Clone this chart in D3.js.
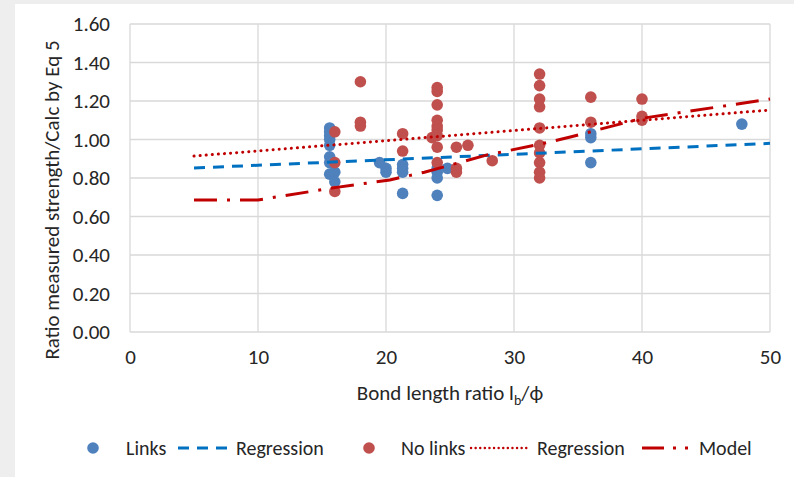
<!DOCTYPE html>
<html>
<head>
<meta charset="utf-8">
<script src="https://cdn.jsdelivr.net/npm/d3@7"></script>
<style>
  html, body { margin: 0; padding: 0; background: #eeeeee; }
  svg { display: block; }
  text { font-family: Carlito, Lato, "Open Sans", sans-serif; fill: #262626; }
</style>
</head>
<body>
<svg id="chart" width="794" height="477"></svg>
<script>
// Bond length ratio (x) and measured/calculated strength ratio (y)
const linksX = [15.6, 15.6, 15.6, 15.6, 15.6, 15.6, 15.6, 15.6, 16.0, 16.0,
                19.5, 20.0, 20.0, 21.3, 21.3, 21.3, 21.3,
                24.0, 24.0, 24.0, 24.0, 24.8, 36.0, 36.0, 36.0, 47.8];
const linksY = [1.06, 1.04, 1.02, 1.00, 0.97, 0.91, 0.88, 0.82, 0.83, 0.78,
                0.88, 0.85, 0.83, 0.87, 0.85, 0.83, 0.72,
                0.85, 0.83, 0.80, 0.71, 0.85, 1.03, 1.01, 0.88, 1.08];

const noLinksX = [16.0, 16.0, 16.0, 18.0, 18.0, 18.0, 21.3, 21.3, 23.6,
                  24.0, 24.0, 24.0, 24.0, 24.0, 24.0, 24.0, 24.0, 24.0,
                  25.5, 25.5, 25.5, 26.4, 28.3,
                  32.0, 32.0, 32.0, 32.0, 32.0, 32.0, 32.0, 32.0, 32.0, 32.0,
                  36.0, 36.0, 40.0, 40.0, 40.0];
const noLinksY = [1.04, 0.88, 0.73, 1.30, 1.09, 1.07, 1.03, 0.94, 1.01,
                  1.27, 1.25, 1.18, 1.10, 1.07, 1.05, 1.02, 0.96, 0.88,
                  0.96, 0.85, 0.83, 0.97, 0.89,
                  1.34, 1.28, 1.21, 1.17, 1.06, 0.97, 0.93, 0.88, 0.83, 0.80,
                  1.22, 1.09, 1.21, 1.12, 1.10];

// Linear regression lines (end points)
const linksRegX = [5, 50];
const linksRegY = [0.852, 0.980];
const noLinksRegX = [5, 50];
const noLinksRegY = [0.914, 1.153];

// Model prediction
const modelX = [5, 10, 16, 20.3, 23, 27.9, 32, 34.4, 40, 50];
const modelY = [0.686, 0.686, 0.75, 0.79, 0.83, 0.92, 0.975, 1.013, 1.11, 1.21];

const xTicks = [0, 10, 20, 30, 40, 50];
const yTicks = [0, 0.2, 0.4, 0.6, 0.8, 1.0, 1.2, 1.4, 1.6];

const colLinks = "#4F81BD";
const colNoLinks = "#C0504D";
const colLinksReg = "#0070C0";
const colRed = "#C00000";

const svg = d3.select("#chart");

// white chart panel
svg.append("rect").attr("x", 15).attr("y", 4).attr("width", 779).attr("height", 473).attr("fill", "#ffffff");

const plot = { left: 130, right: 770, top: 24, bottom: 332 };
const x = d3.scaleLinear().domain([0, 50]).range([plot.left, plot.right]);
const y = d3.scaleLinear().domain([0, 1.6]).range([plot.bottom, plot.top]);

// gridlines
const grid = svg.append("g");
grid.selectAll("line.h").data(yTicks).enter().append("line")
  .attr("x1", plot.left).attr("x2", plot.right)
  .attr("y1", d => y(d)).attr("y2", d => y(d))
  .attr("stroke", "#d9d9d9").attr("stroke-width", 1.3);
grid.selectAll("line.v").data(xTicks).enter().append("line")
  .attr("y1", plot.top).attr("y2", plot.bottom)
  .attr("x1", d => x(d)).attr("x2", d => x(d))
  .attr("stroke", "#d9d9d9").attr("stroke-width", 1.3);

// axes (labels only; lines come from the grid)
const yAxis = svg.append("g").attr("transform", `translate(${plot.left},0)`)
  .call(d3.axisLeft(y).tickValues(yTicks).tickFormat(d3.format(".2f")).tickSize(0).tickPadding(20));
const xAxis = svg.append("g").attr("transform", `translate(0,${plot.bottom})`)
  .call(d3.axisBottom(x).tickValues(xTicks).tickFormat(d3.format("d")).tickSize(0).tickPadding(17));
[yAxis, xAxis].forEach(a => {
  a.select(".domain").remove();
  a.selectAll("text").attr("font-size", 21).attr("fill", "#262626")
    .attr("font-family", "Carlito, Lato, 'Open Sans', sans-serif");
});

// axis titles
svg.append("text")
  .attr("transform", `translate(59,${(plot.top + plot.bottom) / 2 + 22}) rotate(-90)`)
  .attr("text-anchor", "middle").attr("font-size", 21)
  .text("Ratio measured strength/Calc by Eq 5");
const xt = svg.append("text")
  .attr("x", (plot.left + plot.right) / 2).attr("y", 400)
  .attr("text-anchor", "middle").attr("font-size", 21);
xt.append("tspan").text("Bond length ratio  l");
xt.append("tspan").attr("font-size", 14).attr("dy", 5).text("b");
xt.append("tspan").attr("dy", -5).text("/ϕ");

// points
const pts = svg.append("g");
pts.selectAll("circle.links").data(linksX.map((v, i) => [v, linksY[i]])).enter().append("circle")
  .attr("cx", d => x(d[0])).attr("cy", d => y(d[1])).attr("r", 5.8).attr("fill", colLinks);
pts.selectAll("circle.nolinks").data(noLinksX.map((v, i) => [v, noLinksY[i]])).enter().append("circle")
  .attr("cx", d => x(d[0])).attr("cy", d => y(d[1])).attr("r", 5.8).attr("fill", colNoLinks);

// lines
const line = d3.line().x(d => x(d[0])).y(d => y(d[1]));
svg.append("path").datum(linksRegX.map((v, i) => [v, linksRegY[i]]))
  .attr("d", line).attr("fill", "none").attr("stroke", colLinksReg)
  .attr("stroke-width", 3).attr("stroke-dasharray", "11,8");
svg.append("path").datum(noLinksRegX.map((v, i) => [v, noLinksRegY[i]]))
  .attr("d", line).attr("fill", "none").attr("stroke", colRed)
  .attr("stroke-width", 3).attr("stroke-linecap", "round").attr("stroke-dasharray", "0.1,6");
svg.append("path").datum(modelX.map((v, i) => [v, modelY[i]]))
  .attr("d", line).attr("fill", "none").attr("stroke", colRed)
  .attr("stroke-width", 3).attr("stroke-dasharray", "23,10,3,10");

// legend
const lg = svg.append("g").attr("transform", "translate(0,448)");
const legendText = (tx, label) => lg.append("text").attr("x", tx).attr("y", 7)
  .attr("font-size", 20).text(label);
lg.append("circle").attr("cx", 93).attr("cy", 0).attr("r", 5.8).attr("fill", colLinks);
legendText(126, "Links");
lg.append("line").attr("x1", 178).attr("x2", 232).attr("y1", 0).attr("y2", 0)
  .attr("stroke", colLinksReg).attr("stroke-width", 3).attr("stroke-dasharray", "11,8");
legendText(236, "Regression");
lg.append("circle").attr("cx", 369).attr("cy", 0).attr("r", 5.8).attr("fill", colNoLinks);
legendText(401, "No links");
lg.append("line").attr("x1", 471).attr("x2", 530).attr("y1", 0).attr("y2", 0)
  .attr("stroke", colRed).attr("stroke-width", 2.4).attr("stroke-linecap", "round").attr("stroke-dasharray", "0.1,4.5");
legendText(537, "Regression");
lg.append("line").attr("x1", 642).attr("x2", 696).attr("y1", 0).attr("y2", 0)
  .attr("stroke", colRed).attr("stroke-width", 3).attr("stroke-dasharray", "22,9,3,9,3,9");
legendText(699, "Model");
</script>
</body>
</html>
